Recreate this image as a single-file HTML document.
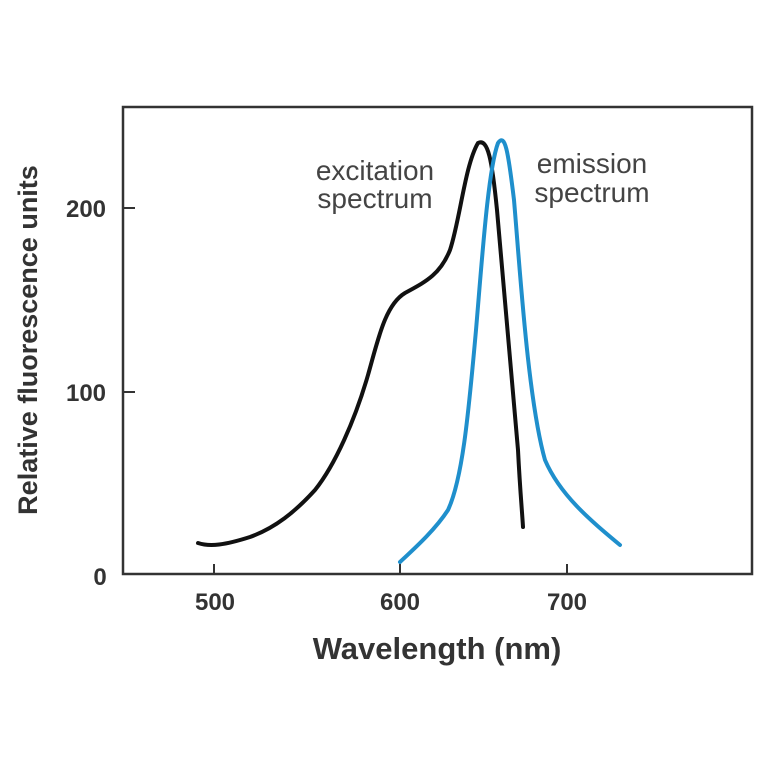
<!DOCTYPE html><html><head><style>body{margin:0;background:#fff}</style></head><body>
<svg width="764" height="764" xmlns="http://www.w3.org/2000/svg" font-family="Liberation Sans, sans-serif">
<rect x="123" y="107" width="629" height="467" fill="none" stroke="#333" stroke-width="2.5"/>
<g stroke="#333" stroke-width="2">
<line x1="214" y1="574" x2="214" y2="564"/><line x1="400" y1="574" x2="400" y2="564"/><line x1="567" y1="574" x2="567" y2="564"/>
<line x1="123" y1="208" x2="135" y2="208"/><line x1="123" y1="392" x2="135" y2="392"/>
</g>
<g font-size="24" font-weight="bold" fill="#333" text-anchor="middle">
<text x="215" y="610">500</text><text x="400" y="610">600</text><text x="567" y="610">700</text>
<text x="86" y="217">200</text><text x="86" y="401">100</text><text x="100" y="585">0</text>
</g>
<text x="437" y="659" font-size="31" font-weight="bold" fill="#333" text-anchor="middle">Wavelength (nm)</text>
<text transform="translate(37,340) rotate(-90)" font-size="27" font-weight="bold" fill="#333" text-anchor="middle">Relative fluorescence units</text>
<g font-size="28" fill="#444" text-anchor="middle">
<text x="375" y="180">excitation</text><text x="375" y="208">spectrum</text>
<text x="592" y="173">emission</text><text x="592" y="202">spectrum</text>
</g>
<path d="M198,543 C210,547 225,545 250,537 C275,528 295,512 315,490 C335,465 355,420 368,375 C378,340 385,305 405,293 C425,282 440,275 450,250 C460,220 465,165 478,143 C488,138 492,160 497,210 C503,280 512,380 518,450 C520,490 522,510 523,527" fill="none" stroke="#111" stroke-width="4" stroke-linecap="round"/>
<path d="M400,562 C415,548 435,530 448,510 C462,480 468,420 476,330 C482,260 488,170 498,143 C505,133 508,150 514,200 C520,270 528,400 545,460 C560,495 590,520 620,545" fill="none" stroke="#1f8fcc" stroke-width="4" stroke-linecap="round"/>
</svg></body></html>
